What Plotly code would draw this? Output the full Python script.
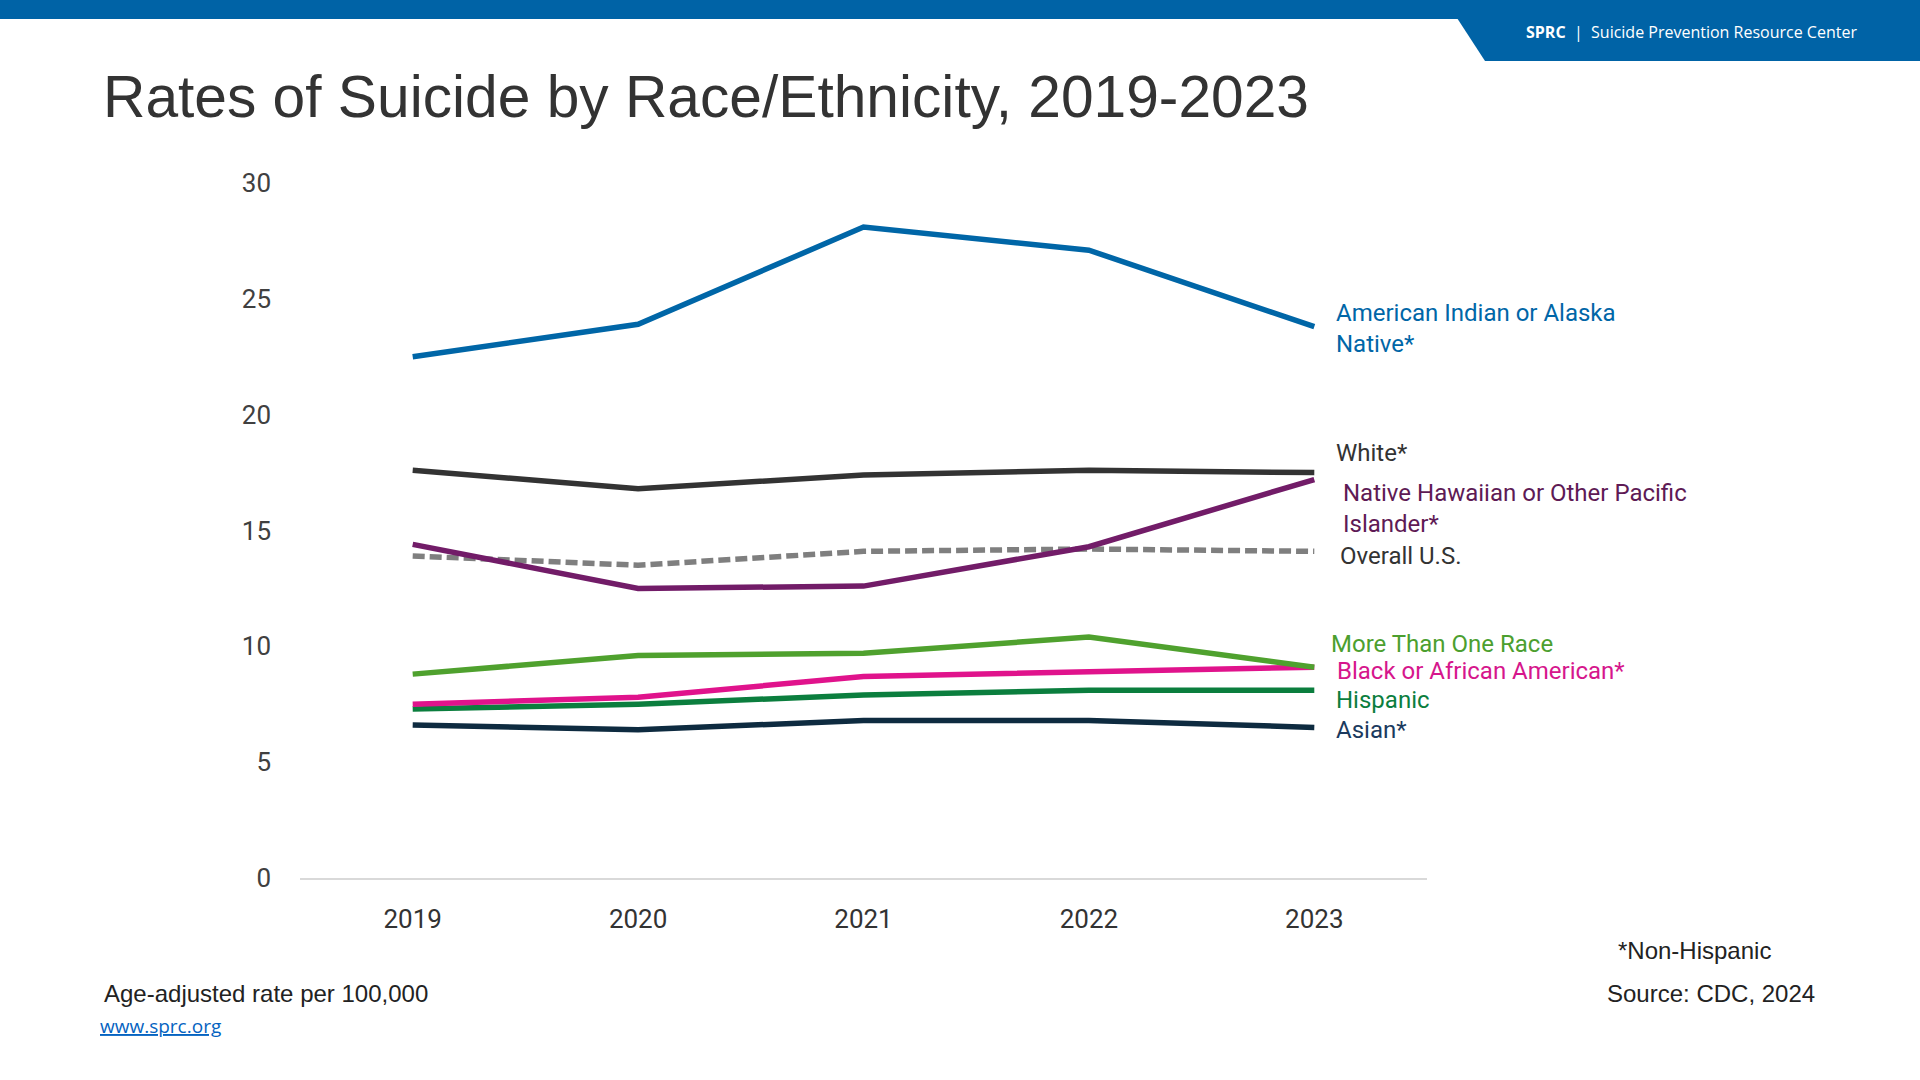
import plotly.graph_objects as go

# ---------------- data ----------------
years = ["2019", "2020", "2021", "2022", "2023"]

aian = [22.5, 23.9, 28.1, 27.1, 23.8]
white = [17.6, 16.8, 17.4, 17.6, 17.5]
nhopi = [14.4, 12.5, 12.6, 14.3, 17.2]
overall = [13.9, 13.5, 14.1, 14.2, 14.1]
multi = [8.8, 9.6, 9.7, 10.4, 9.1]
black = [7.5, 7.8, 8.7, 8.9, 9.1]
hispanic = [7.3, 7.5, 7.9, 8.1, 8.1]
asian = [6.6, 6.4, 6.8, 6.8, 6.5]

y_ticks = [0, 5, 10, 15, 20, 25, 30]

series = [
    # name, values, line colour, label colour, dash
    ("Asian*", asian, "#0E2B40", "#1B3A5E", "solid"),
    ("Hispanic", hispanic, "#0B7E3E", "#0B7E3E", "solid"),
    ("Black or African American*", black, "#E0138C", "#D6168C", "solid"),
    ("More Than One Race", multi, "#4FA12E", "#4C9F2F", "solid"),
    ("Overall U.S.", overall, "#7F7F7F", "#333333", "12px,5px"),
    ("Native Hawaiian or Other Pacific Islander*", nhopi, "#721C68", "#5E1A55", "solid"),
    ("White*", white, "#333333", "#333333", "solid"),
    ("American Indian or Alaska Native*", aian, "#0066A7", "#0066A7", "solid"),
]

# ---------------- layout geometry (pixels) ----------------
W, H = 1920, 1080
PL, PR, PT, PB = 300, 1427, 183, 878


def px(x):
    return (x - PL) / (PR - PL)


def py(y):
    return (PB - y) / (PB - PT)


fig = go.Figure()
for name, vals, col, _, dash in series:
    fig.add_trace(go.Scatter(
        x=years, y=vals, mode="lines", name=name,
        line=dict(color=col, width=5.5, dash=dash),
        hoverinfo="x+y+name",
    ))

# series labels (left x px, centre y px)
label_pos = {
    "American Indian or Alaska Native*": (1334, 328, "American Indian or Alaska<br>Native*"),
    "White*": (1334, 453, "White*"),
    "Native Hawaiian or Other Pacific Islander*": (1341, 508, "Native Hawaiian or Other Pacific<br>Islander*"),
    "Overall U.S.": (1338, 556, "Overall U.S."),
    "More Than One Race": (1329, 644, "More Than One Race"),
    "Black or African American*": (1335, 671, "Black or African American*"),
    "Hispanic": (1334, 700, "Hispanic"),
    "Asian*": (1334, 730, "Asian*"),
}

annotations = []
for name, vals, col, lcol, dash in series:
    lx, ly, txt = label_pos[name]
    annotations.append(dict(
        x=px(lx), y=py(ly), xref="paper", yref="paper", text=txt,
        showarrow=False, xanchor="left", yanchor="middle", align="left",
        font=dict(family="Roboto", size=24, color=lcol),
    ))

# title
annotations.append(dict(
    x=px(101), y=py(96), xref="paper", yref="paper",
    text="Rates of Suicide by Race/Ethnicity, 2019-2023",
    showarrow=False, xanchor="left", yanchor="middle",
    font=dict(family="Liberation Sans, Arial", size=58.7, color="#333333"),
))

# header text
annotations.append(dict(
    x=px(1524), y=py(32), xref="paper", yref="paper",
    text="<b>SPRC</b>  |  Suicide Prevention Resource Center",
    showarrow=False, xanchor="left", yanchor="middle",
    font=dict(family="Open Sans", size=16, color="#FFFFFF"),
))

# footer texts
annotations += [
    dict(x=px(102), y=py(993), xref="paper", yref="paper",
         text="Age-adjusted rate per 100,000", showarrow=False,
         xanchor="left", yanchor="middle",
         font=dict(family="Liberation Sans, Arial", size=24, color="#222222")),
    dict(x=px(98), y=py(1026), xref="paper", yref="paper",
         text="<u>www.sprc.org</u>", showarrow=False,
         xanchor="left", yanchor="middle",
         font=dict(family="Open Sans", size=19, color="#0563C1")),
    dict(x=px(1773), y=py(950), xref="paper", yref="paper",
         text="*Non-Hispanic", showarrow=False,
         xanchor="right", yanchor="middle",
         font=dict(family="Liberation Sans, Arial", size=24, color="#222222")),
    dict(x=px(1817), y=py(993), xref="paper", yref="paper",
         text="Source: CDC, 2024", showarrow=False,
         xanchor="right", yanchor="middle",
         font=dict(family="Liberation Sans, Arial", size=24, color="#222222")),
]

# header shapes
shapes = [
    dict(type="rect", xref="paper", yref="paper",
         x0=px(0), x1=px(W), y0=py(0), y1=py(19),
         fillcolor="#0063A6", line=dict(width=0), layer="above"),
    dict(type="path", xref="paper", yref="paper",
         path=f"M {px(1457)},{py(18)} L {px(W)},{py(18)} L {px(W)},{py(61)} L {px(1485)},{py(61)} Z",
         fillcolor="#0063A6", line=dict(width=0), layer="above"),
]

fig.update_layout(
    width=W, height=H,
    margin=dict(l=PL, r=W - PR, t=PT, b=H - PB, pad=0),
    paper_bgcolor="white", plot_bgcolor="white",
    showlegend=False,
    annotations=annotations,
    shapes=shapes,
    xaxis=dict(
        type="category", range=[-0.5, 4.5], showgrid=False, zeroline=False,
        showline=True, linecolor="#D9D9D9", linewidth=2, ticks="",
        tickfont=dict(family="Roboto", size=26, color="#333333"),
        ticklabelstandoff=17, fixedrange=True,
    ),
    yaxis=dict(
        range=[0, 30], tickvals=y_ticks, showgrid=False, zeroline=False,
        showline=False, ticks="",
        tickfont=dict(family="Roboto", size=26, color="#404040"),
        ticklabelstandoff=28, fixedrange=True,
    ),
)

fig.write_html(
    "out.html",
    config={"displayModeBar": False},
    post_script="document.body.style.margin='0';document.body.style.overflow='hidden';",
)
